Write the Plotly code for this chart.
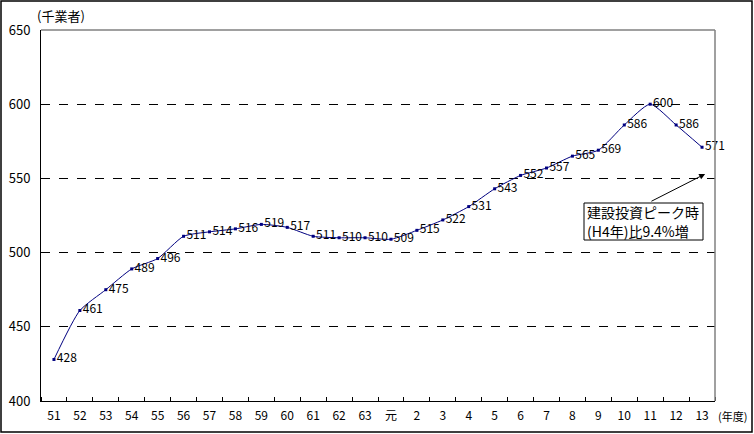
import plotly.graph_objects as go

years = ["51", "52", "53", "54", "55", "56", "57", "58", "59", "60", "61", "62", "63",
         "元", "2", "3", "4", "5", "6", "7", "8", "9", "10", "11", "12", "13"]
contractors = [428, 461, 475, 489, 496, 511, 514, 516, 519, 517, 511, 510, 510,
               509, 515, 522, 531, 543, 552, 557, 565, 569, 586, 600, 586, 571]
y_ticks = [400, 450, 500, 550, 600, 650]
note_lines = ["建設投資ピーク時", "(H4年)比9.4%増"]

FONT = "Noto Sans CJK JP, Arial, sans-serif"

fig = go.Figure()
fig.add_trace(go.Scatter(
    x=list(range(len(years))), y=contractors,
    mode="lines+markers+text",
    line=dict(color="#000080", width=1, shape="spline", smoothing=0.6),
    marker=dict(color="#000080", size=3, symbol="square"),
    text=[str(v) for v in contractors],
    textposition="middle right",
    textfont=dict(family=FONT, size=12, color="black"),
    cliponaxis=False,
    hoverinfo="skip",
))

W, H = 754, 434
L, R, T, B = 41, 39, 30, 33
pw, ph = W - L - R, H - T - B

def px(x):
    return (x - L) / pw

def py(y):
    return (H - B - y) / ph

fig.update_layout(
    width=W, height=H,
    margin=dict(l=L, r=R, t=T, b=B, autoexpand=False),
    paper_bgcolor="white", plot_bgcolor="white",
    showlegend=False,
    font=dict(family=FONT, size=12, color="black"),
    xaxis=dict(
        range=[-0.5, len(years) - 0.5],
        tickvals=list(range(len(years))), ticktext=years,
        showline=True, linecolor="black", linewidth=1,
        ticks="", showgrid=False, zeroline=False,
        tickfont=dict(size=12), automargin=False, ticklabelstandoff=4,
        minor=dict(tickvals=[i - 0.5 for i in range(len(years) + 1)],
                   ticks="inside", ticklen=4, tickcolor="black"),
    ),
    yaxis=dict(
        range=[400, 650], tickvals=y_ticks,
        showline=True, linecolor="black", linewidth=1,
        ticks="", showgrid=True, gridcolor="black", griddash="dash", gridwidth=1,
        zeroline=False, tickfont=dict(size=13), automargin=False, ticklabelstandoff=7,
    ),
    shapes=[
        dict(type="line", xref="paper", yref="paper", x0=0, x1=1, y0=1, y1=1,
             line=dict(color="#808080", width=1.5)),
        dict(type="line", xref="paper", yref="paper", x0=1, x1=1, y0=0, y1=1,
             line=dict(color="#808080", width=1.5)),
        dict(type="rect", xref="paper", yref="paper",
             x0=px(1), x1=px(752), y0=py(432), y1=py(1),
             line=dict(color="black", width=1.5)),
        dict(type="rect", xref="paper", yref="paper",
             x0=px(584), x1=px(703), y0=py(240), y1=py(203),
             fillcolor="white", line=dict(color="black", width=1), layer="above"),
    ],
    annotations=[
        dict(text="(千業者)", xref="paper", yref="paper", x=px(35), y=py(15),
             xanchor="left", yanchor="middle", showarrow=False, font=dict(size=13)),
        dict(text="(年度)", xref="paper", yref="paper", x=px(716), y=py(416),
             xanchor="left", yanchor="middle", showarrow=False, font=dict(size=11)),
        dict(text=note_lines[0], xref="paper", yref="paper", x=px(586), y=py(211.5),
             xanchor="left", yanchor="middle", showarrow=False, font=dict(size=14),
             borderpad=0),
        dict(text=note_lines[1], xref="paper", yref="paper", x=px(586), y=py(231),
             xanchor="left", yanchor="middle", showarrow=False, font=dict(size=14),
             borderpad=0),
        dict(text="", xref="x", yref="y", x=25.12, y=553.0,
             ax=22.99, ay=534.1, axref="x", ayref="y",
             showarrow=True, arrowhead=2, arrowsize=1.2, arrowwidth=1,
             arrowcolor="black", standoff=0, startstandoff=0),
    ],
)

fig.write_html("out.html", config={"displayModeBar": False, "staticPlot": True},
               post_script="document.body.style.margin='0';document.body.style.overflow='hidden';")
